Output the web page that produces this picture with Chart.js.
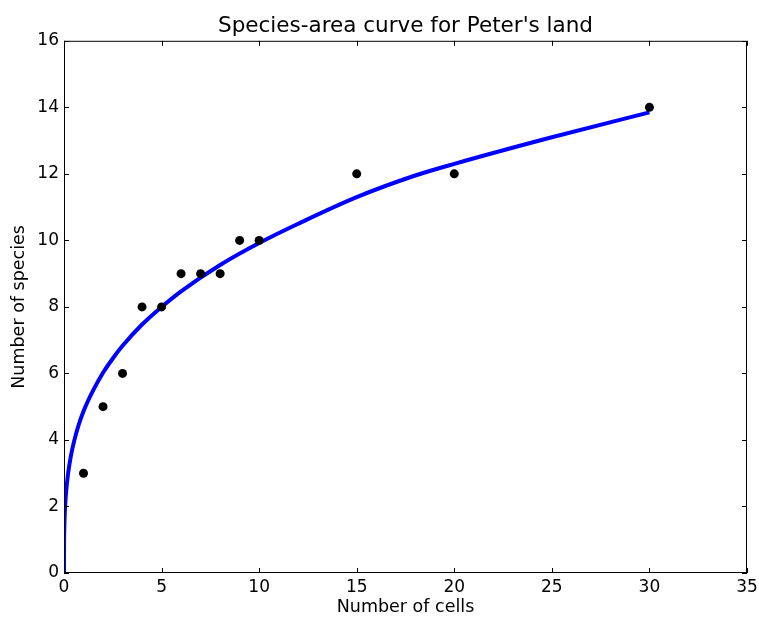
<!DOCTYPE html>
<html lang="en">
<head>
    <meta charset="UTF-8">
    <title>Species-area curve</title>
    <style>
        html, body { margin: 0; padding: 0; background: #fff; }
        #wrap { width: 759px; height: 617px; }
    </style>
</head>
<body>
    <div id="wrap"><canvas id="chart" width="759" height="617"></canvas></div>

    <script src="https://cdn.jsdelivr.net/npm/chart.js"></script>
    <script>
        // observed counts
        const cells = [1, 2, 3, 4, 5, 6, 7, 8, 9, 10, 15, 20, 30];
        const species = [3, 5, 6, 8, 8, 9, 9, 9, 10, 10, 12, 12, 14];

        // fitted curve
        const curveX = [0, 0.003, 0.01, 0.03, 0.06, 0.1, 0.2, 0.35, 0.5, 0.75, 1, 1.25, 1.5, 2, 2.5, 3, 4, 5, 6, 8, 10, 12, 15, 18, 20, 25, 30];
        const curveY = [0, 0.8, 1.17, 1.64, 2.03, 2.38, 2.95, 3.51, 3.92, 4.45, 4.86, 5.2, 5.5, 6.02, 6.45, 6.83, 7.47, 8.0, 8.47, 9.26, 9.92, 10.5, 11.3, 11.95, 12.3, 13.1, 13.85];

        const xTicks = [0, 5, 10, 15, 20, 25, 30, 35];
        const yTicks = [0, 2, 4, 6, 8, 10, 12, 14, 16];

        const FONT = 'DejaVu Sans';

        // frame + inward ticks, matplotlib style
        const framePlugin = {
            id: 'frame',
            afterDraw(chart) {
                const { ctx, chartArea: a, scales } = chart;
                ctx.save();
                ctx.strokeStyle = '#000';
                ctx.lineWidth = 1;
                ctx.strokeRect(a.left + 0.5, a.top + 0.5, a.right - a.left - 1, a.bottom - a.top - 1);
                ctx.beginPath();
                const len = 5;
                xTicks.forEach(v => {
                    const px = Math.round(scales.x.getPixelForValue(v)) + 0.5;
                    ctx.moveTo(px, a.bottom); ctx.lineTo(px, a.bottom - len);
                    ctx.moveTo(px, a.top); ctx.lineTo(px, a.top + len);
                });
                yTicks.forEach(v => {
                    const py = Math.round(scales.y.getPixelForValue(v)) + 0.5;
                    ctx.moveTo(a.left, py); ctx.lineTo(a.left + len, py);
                    ctx.moveTo(a.right, py); ctx.lineTo(a.right - len, py);
                });
                ctx.stroke();
                ctx.restore();
            }
        };

        const points = cells.map((c, i) => ({ x: c, y: species[i] }));
        const curve = curveX.map((c, i) => ({ x: c, y: curveY[i] }));

        new Chart(document.getElementById('chart'), {
            type: 'scatter',
            data: {
                datasets: [
                    {
                        label: 'observed',
                        data: points,
                        pointRadius: 4.5,
                        pointBackgroundColor: '#000',
                        pointBorderColor: '#000',
                        pointBorderWidth: 0
                    },
                    {
                        label: 'fit',
                        data: curve,
                        showLine: true,
                        pointRadius: 0,
                        borderColor: '#0000ff',
                        borderWidth: 4,
                        cubicInterpolationMode: 'monotone'
                    }
                ]
            },
            options: {
                responsive: false,
                animation: false,
                layout: { padding: { left: 0, right: 0, top: 0, bottom: 0 } },
                plugins: {
                    legend: { display: false },
                    tooltip: { enabled: false },
                    title: {
                        display: true,
                        fullSize: false,
                        text: "Species-area curve for Peter's land",
                        color: '#000',
                        font: { family: FONT, size: 21.5, weight: 'normal' },
                        padding: { top: 14, bottom: 1 }
                    }
                },
                scales: {
                    x: {
                        type: 'linear',
                        min: 0, max: 35,
                        afterBuildTicks(s) { s.ticks = xTicks.map(v => ({ value: v })); },
                        afterFit(s) { s.height = 44; s.paddingRight = 12; },
                        grid: { display: false, drawTicks: false },
                        border: { display: false },
                        ticks: { color: '#000', padding: 4, font: { family: FONT, size: 17 } },
                        title: {
                            display: true, text: 'Number of cells', color: '#000',
                            font: { family: FONT, size: 17.5 }, padding: { top: 0, bottom: -1 }
                        }
                    },
                    y: {
                        type: 'linear',
                        min: 0, max: 16,
                        afterBuildTicks(s) { s.ticks = yTicks.map(v => ({ value: v })); },
                        afterFit(s) { s.width = 64; },
                        grid: { display: false, drawTicks: false },
                        border: { display: false },
                        ticks: { color: '#000', padding: 5, font: { family: FONT, size: 17 } },
                        title: {
                            display: true, text: 'Number of species', color: '#000',
                            font: { family: FONT, size: 17.5 }, padding: { top: 9, bottom: 0 }
                        }
                    }
                }
            },
            plugins: [framePlugin]
        });
    </script>
</body>
</html>
